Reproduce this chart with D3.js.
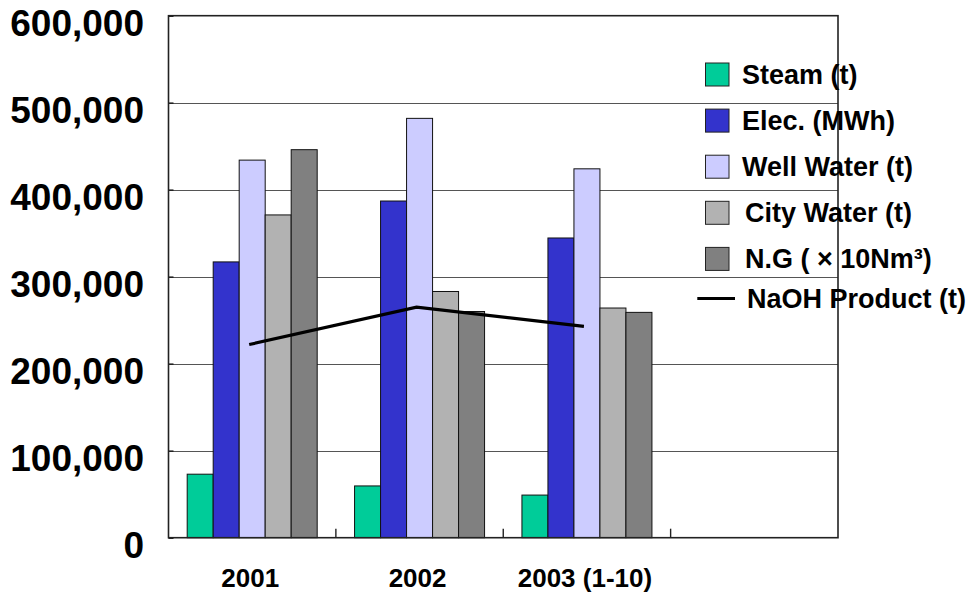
<!DOCTYPE html>
<html>
<head>
<meta charset="utf-8">
<script src="https://cdn.jsdelivr.net/npm/d3@7/dist/d3.min.js"></script>
<style>
  html, body { margin: 0; padding: 0; background: #ffffff; }
  svg { display: block; }
  text { font-family: "Liberation Sans", Arial, sans-serif; font-weight: bold; fill: #000; }
</style>
</head>
<body>
<svg id="chart" width="978" height="596"></svg>
<script>
// ---- data ----
const categories = ["2001", "2002", "2003 (1-10)", ""];
const seriesNames = ["Steam (t)", "Elec. (MWh)", "Well Water (t)", "City Water (t)", "N.G ( \u00d7 10Nm\u00b3)"];
const steam      = [73000, 59500, 49000];
const elec       = [317000, 387000, 344500];
const wellWater  = [434000, 482000, 424000];
const cityWater  = [371000, 283000, 264000];
const naturalGas = [446000, 260000, 259000];
const naohName   = "NaOH Product (t)";
const naoh       = [222000, 265000, 243000];
const yTicks     = [0, 100000, 200000, 300000, 400000, 500000, 600000];
const colors     = ["#00CC99", "#3333CC", "#CCCCFF", "#B2B2B2", "#808080"];

const barSeries = [steam, elec, wellWater, cityWater, naturalGas];

// ---- layout ----
const svg = d3.select("#chart");
const plot = { left: 168.5, right: 838, top: 15.7, bottom: 537.7 };

const y = d3.scaleLinear().domain([0, 600000]).range([plot.bottom, plot.top]);
const x0 = d3.scaleBand().domain(categories).range([plot.left, plot.right]).padding(0);
const groupPad = (x0.bandwidth() - 130) / 2;
const x1 = d3.scaleBand().domain(d3.range(seriesNames.length))
  .range([groupPad, x0.bandwidth() - groupPad]).padding(0);

// gridlines
svg.append("g").selectAll("line").data(yTicks.filter(d => d > 0 && d < 600000)).join("line")
  .attr("x1", plot.left).attr("x2", plot.right)
  .attr("y1", d => Math.round(y(d)) + 0.5).attr("y2", d => Math.round(y(d)) + 0.5)
  .attr("stroke", "#555").attr("stroke-width", 1.2);

// bars
const gBars = svg.append("g");
barSeries.forEach((vals, si) => {
  gBars.append("g").selectAll("rect").data(vals).join("rect")
    .attr("x", (d, i) => x0(categories[i]) + x1(si))
    .attr("y", d => y(d))
    .attr("width", x1.bandwidth())
    .attr("height", d => plot.bottom - y(d))
    .attr("fill", colors[si])
    .attr("stroke", "#111").attr("stroke-width", 1);
});

// NaOH line
const line = d3.line()
  .x((d, i) => x0(categories[i]) + x0.bandwidth() / 2 - 3)
  .y(d => y(d));
svg.append("path").datum(naoh).attr("d", line)
  .attr("fill", "none").attr("stroke", "#000").attr("stroke-width", 3.2);

// frame
svg.append("rect")
  .attr("x", plot.left).attr("y", plot.top)
  .attr("width", plot.right - plot.left).attr("height", plot.bottom - plot.top)
  .attr("fill", "none").attr("stroke", "#222").attr("stroke-width", 1.6);

// y axis (ticks inside) and labels
const yAxis = d3.axisRight(y).tickValues(yTicks).tickSize(5).tickFormat("");
const gy = svg.append("g").attr("transform", `translate(${plot.left},0)`).call(yAxis);
gy.select(".domain").remove();
gy.selectAll(".tick line").attr("stroke", "#222").attr("stroke-width", 1.6);

svg.append("g").selectAll("text").data(yTicks).join("text")
  .attr("x", 144).attr("y", d => y(d) + 20.5)
  .attr("text-anchor", "end")
  .style("font-size", "37px")
  .text(d => d3.format(",")(d));

// x axis ticks (inside, at category boundaries)
const xBoundaries = categories.slice(1).map(c => x0(c));
svg.append("g").selectAll("line").data(xBoundaries).join("line")
  .attr("x1", d => d).attr("x2", d => d)
  .attr("y1", plot.bottom).attr("y2", plot.bottom - 9)
  .attr("stroke", "#222").attr("stroke-width", 1.4);

// category labels
svg.append("g").selectAll("text").data(categories.filter(c => c !== "")).join("text")
  .attr("x", d => x0(d) + x0.bandwidth() / 2 - 2)
  .attr("y", 587.3)
  .attr("text-anchor", "middle")
  .style("font-size", "26px")
  .text(d => d);

// legend
const legend = svg.append("g");
const textX = [742, 742, 742, 745, 745];
seriesNames.forEach((name, i) => {
  const cy = 74.5 + i * 46.1;
  legend.append("rect")
    .attr("x", 705.5).attr("y", cy - 11.5).attr("width", 23.5).attr("height", 23)
    .attr("fill", colors[i]).attr("stroke", "#222").attr("stroke-width", 1);
  legend.append("text")
    .attr("x", textX[i]).attr("y", cy + 9.5)
    .style("font-size", "27px")
    .text(name);
});
const ly = 298.5;
legend.append("line")
  .attr("x1", 697.3).attr("x2", 735).attr("y1", ly).attr("y2", ly)
  .attr("stroke", "#000").attr("stroke-width", 3.2);
legend.append("text")
  .attr("x", 747).attr("y", ly + 9.5)
  .style("font-size", "27px")
  .text(naohName);
</script>
</body>
</html>
